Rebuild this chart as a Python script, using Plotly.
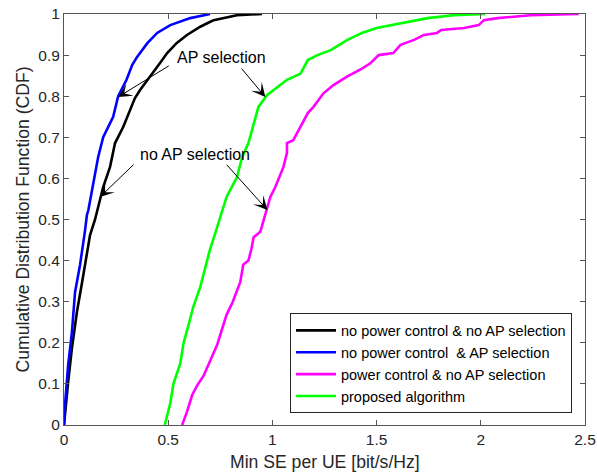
import plotly.graph_objects as go

# ---- data (x = Min SE per UE, y = CDF) ----
black_x = [0, 0.005, 0.02, 0.038, 0.062, 0.087, 0.11, 0.125, 0.149, 0.164, 0.188, 0.221, 0.245, 0.284,
           0.317, 0.34, 0.365, 0.413, 0.46, 0.495, 0.54, 0.59, 0.654, 0.69, 0.718, 0.83, 0.95]
black_y = [0, 0.03, 0.105, 0.187, 0.275, 0.348, 0.414, 0.462, 0.50, 0.53, 0.579, 0.628, 0.686, 0.725,
           0.766, 0.795, 0.815, 0.847, 0.88, 0.905, 0.929, 0.949, 0.969, 0.978, 0.985, 0.997, 1.0]

blue_x = [0, 0.005, 0.02, 0.038, 0.053, 0.077, 0.10, 0.11, 0.117, 0.14, 0.164, 0.188, 0.236, 0.26,
          0.30, 0.327, 0.35, 0.40, 0.447, 0.51, 0.606, 0.70]
blue_y = [0, 0.05, 0.146, 0.226, 0.323, 0.39, 0.47, 0.511, 0.523, 0.588, 0.652, 0.70, 0.75, 0.80,
          0.84, 0.876, 0.895, 0.929, 0.954, 0.973, 0.99, 1.0]

magenta_x = [0.567, 0.59, 0.615, 0.64, 0.67, 0.70, 0.735, 0.76, 0.78, 0.81, 0.846, 0.86, 0.885, 0.90,
             0.91, 0.942, 0.966, 0.99, 1.014, 1.053, 1.07, 1.07, 1.10, 1.135, 1.17, 1.197, 1.245,
             1.293, 1.36, 1.423, 1.47, 1.51, 1.58, 1.615, 1.68, 1.727, 1.79, 1.81, 1.92, 1.99,
             2.015, 2.08, 2.24, 2.47]
magenta_y = [0, 0.032, 0.073, 0.097, 0.12, 0.153, 0.195, 0.236, 0.268, 0.30, 0.348, 0.39, 0.40, 0.43,
             0.457, 0.47, 0.511, 0.555, 0.579, 0.628, 0.662, 0.686, 0.693, 0.725, 0.759, 0.774, 0.807,
             0.827, 0.848, 0.865, 0.88, 0.90, 0.905, 0.925, 0.937, 0.949, 0.954, 0.961, 0.966, 0.973,
             0.985, 0.99, 0.997, 1.0]

green_x = [0.483, 0.486, 0.51, 0.525, 0.558, 0.574, 0.60, 0.62, 0.654, 0.678, 0.70, 0.726, 0.75, 0.78,
           0.83, 0.855, 0.885, 0.91, 0.933, 0.975, 1.02, 1.07, 1.135, 1.17, 1.216, 1.28, 1.36, 1.43,
           1.50, 1.57, 1.63, 1.745, 1.87, 2.02]
green_y = [0, 0.005, 0.053, 0.10, 0.15, 0.20, 0.248, 0.287, 0.336, 0.384, 0.426, 0.467, 0.506, 0.555,
           0.603, 0.652, 0.686, 0.735, 0.774, 0.803, 0.82, 0.84, 0.855, 0.888, 0.90, 0.912, 0.937, 0.954,
           0.966, 0.973, 0.978, 0.99, 0.997, 1.0]

series_names = ["no power control & no AP selection",
                "no power control  & AP selection",
                "power control & no AP selection",
                "proposed algorithm"]

x_ticks = [0, 0.5, 1, 1.5, 2, 2.5]
x_ticklabels = ["0", "0.5", "1", "1.5", "2", "2.5"]
y_ticks = [0, 0.1, 0.2, 0.3, 0.4, 0.5, 0.6, 0.7, 0.8, 0.9, 1]
y_ticklabels = ["0", "0.1", "0.2", "0.3", "0.4", "0.5", "0.6", "0.7", "0.8", "0.9", "1"]

x_title = "Min SE per UE [bit/s/Hz]"
y_title = "Cumulative Distribution Function (CDF)"

# annotation labels and arrows (tail -> tip, data coordinates)
label_texts = ["AP selection", "no AP selection"]
label_pos = [(0.755, 0.893), (0.63, 0.657)]
arrows = [((0.51, 0.876), (0.26, 0.798)),
          ((0.846, 0.871), (0.966, 0.798)),
          ((0.341, 0.637), (0.173, 0.555)),
          ((0.774, 0.637), (0.976, 0.523))]

FONT = "Liberation Sans, Arial, Helvetica, sans-serif"
AX = "#262626"

fig = go.Figure()
for xs, ys, name, col in [(black_x, black_y, series_names[0], "#000000"),
                          (blue_x, blue_y, series_names[1], "#0000ff"),
                          (magenta_x, magenta_y, series_names[2], "#ff00ff"),
                          (green_x, green_y, series_names[3], "#00ff00")]:
    fig.add_trace(go.Scatter(x=xs, y=ys, mode="lines", name=name,
                             line=dict(color=col, width=2.6)))

for txt, (tx, ty) in zip(label_texts, label_pos):
    fig.add_annotation(x=tx, y=ty, xref="x", yref="y", text=txt, showarrow=False,
                       font=dict(family=FONT, size=16, color="#000000"))

for (tail, tip) in arrows:
    fig.add_annotation(x=tip[0], y=tip[1], ax=tail[0], ay=tail[1], xref="x", yref="y",
                       axref="x", ayref="y", text="", showarrow=True,
                       arrowhead=3, arrowsize=2.3, arrowwidth=1, arrowcolor="#000000")

# axis titles placed as paper-referenced text
fig.add_annotation(x=0.5, y=-0.09, xref="paper", yref="paper", text=x_title, showarrow=False,
                   xanchor="center", yanchor="middle",
                   font=dict(family=FONT, size=17.6, color=AX))
fig.add_annotation(x=-0.0806, y=0.5, xref="paper", yref="paper", text=y_title, showarrow=False,
                   xanchor="center", yanchor="middle", textangle=-90,
                   font=dict(family=FONT, size=17.6, color=AX))

axis_common = dict(showline=True, linecolor="#555555", linewidth=1, mirror="ticks",
                   ticks="inside", ticklen=5, tickcolor="#555555", tickwidth=1,
                   showgrid=False, zeroline=False, automargin=False,
                   tickfont=dict(family=FONT, size=15.5, color=AX))

fig.update_xaxes(range=[0, 2.5], tickvals=x_ticks, ticktext=x_ticklabels, **axis_common)
fig.update_yaxes(range=[0, 1], tickvals=y_ticks, ticktext=y_ticklabels, **axis_common)

fig.update_layout(
    width=597, height=474,
    margin=dict(l=64, r=12, t=14, b=49),
    paper_bgcolor="white", plot_bgcolor="white",
    font=dict(family=FONT, color=AX),
    legend=dict(x=0.975, y=0.028, xanchor="right", yanchor="bottom",
                bgcolor="white", bordercolor=AX, borderwidth=1,
                font=dict(family=FONT, size=14.5, color="#000000"),
                tracegroupgap=0, itemwidth=40),
    showlegend=True,
)

fig.write_html("out.html")
